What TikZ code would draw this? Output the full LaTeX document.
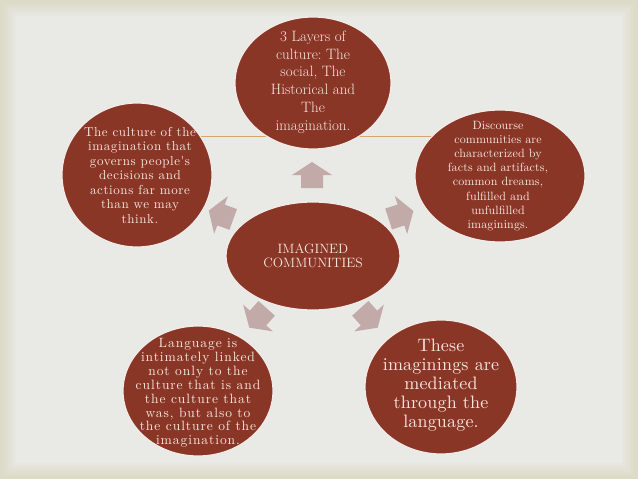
\documentclass[tikz,border=0pt]{standalone}
\usepackage{fontspec}
\usetikzlibrary{shapes.geometric}
\newfontfamily\lsA{lmroman10-regular.otf}[LetterSpace=4.5]
\newfontfamily\lsB{lmroman10-regular.otf}[LetterSpace=7]
\newfontfamily\lsC{lmroman10-regular.otf}[LetterSpace=1]
\definecolor{bgedge}{HTML}{DCDBC8}
\definecolor{bgin}{HTML}{EAEAE8}
\definecolor{disc}{HTML}{8A3627}
\definecolor{disctext}{HTML}{F6E8E0}
\definecolor{arrowfill}{HTML}{C2AAA8}
\definecolor{rule}{HTML}{D9A46C}
\tikzset{
  bubble/.style={ellipse, fill=disc, draw=white!90!disc, line width=1.2pt,
    inner sep=0pt},
  bubtext/.style={inner sep=0pt, text=disctext, align=center},
  blockarrow/.pic={\fill[arrowfill] (-13,-11) -- (0,-11) -- (0,-20) -- (13,0) -- (0,20) -- (0,11) -- (-13,11) -- cycle;}
}
\newcommand{\txtsz}[3]{#3\fontsize{#1}{#2}\selectfont\frenchspacing}
\begin{document}
\begin{tikzpicture}[x=1pt,y=-1pt]
\useasboundingbox (0,0) rectangle (638,479);
% background
\fill[bgedge] (0,0) rectangle (638,479);
\foreach \i in {0,...,9}{
  \pgfmathsetmacro{\m}{\i*10}
  \fill[bgin!\m!bgedge] (2+\i*1.6,2+\i*1.6) rectangle (636-\i*1.6,477-\i*1.6);
}
% title rule
\coordinate (r1) at (193,136);
\coordinate (r2) at (435,136);
\draw[rule, line width=1pt] (r1) -- (r2);
% arrows
\pic[rotate=90] at (312,175) {blockarrow};
\pic[rotate=160] at (221,215) {blockarrow};
\pic[rotate=18] at (401,215) {blockarrow};
\pic[rotate=228] at (258,318) {blockarrow};
\pic[rotate=312] at (369,318) {blockarrow};
% bubbles
\node[bubble, minimum width=156pt, minimum height=132pt] (top) at (313,83) {};
\node[bubble, minimum width=150pt, minimum height=144pt] (ul) at (137,175) {};
\node[bubble, minimum width=170pt, minimum height=132pt] (ur) at (500,176) {};
\node[bubble, minimum width=174pt, minimum height=108pt] (mid) at (313,256) {};
\node[bubble, minimum width=150pt, minimum height=130pt] (ll) at (198,391) {};
\node[bubble, minimum width=152pt, minimum height=134pt] (lr) at (441,387) {};
% texts
\node[bubtext, font=\txtsz{15}{17.8}{\rmfamily}] (topt) at ([yshift=1pt]top.center)
  {3 Layers of\\culture: The\\social, The\\Historical and\\The\\imagination.};
\node[bubtext, font=\txtsz{13}{14.5}{\lsA}] (ult) at ([xshift=3pt]ul.center)
  {The culture of the\\imagination that\\governs people's\\decisions and\\actions far more\\than we may\\think.};
\node[bubtext, font=\txtsz{12}{14.2}{\lsC}] (urt) at ([xshift=-2pt]ur.center)
  {Discourse\\communities are\\characterized by\\facts and artifacts,\\common dreams,\\fulfilled and\\unfulfilled\\imaginings.};
\node[bubtext, font=\txtsz{13.5}{14.5}{\rmfamily}] (midt) at (mid.center)
  {IMAGINED\\COMMUNITIES};
\node[bubtext, font=\txtsz{13.5}{13.9}{\lsB}] (llt) at ([yshift=-2pt]ll.center)
  {Language is\\intimately linked\\not only to the\\culture that is and\\the culture that\\was, but also to\\the culture of the\\imagination.};
\node[bubtext, font=\txtsz{18}{19}{\lsC}] (lrt) at ([yshift=2pt]lr.center)
  {These\\imaginings are\\mediated\\through the\\language.};
\end{tikzpicture}
\end{document}
